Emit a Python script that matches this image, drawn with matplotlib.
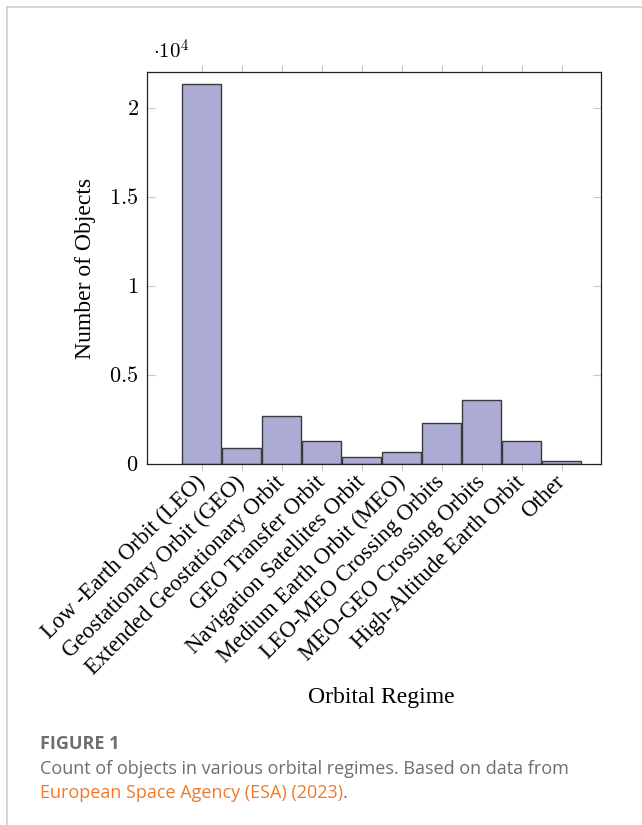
import matplotlib.pyplot as plt
from matplotlib.lines import Line2D

regimes = ['Low -Earth Orbit (LEO)', 'Geostationary Orbit (GEO)',
           'Extended Geostationary Orbit', 'GEO Transfer Orbit',
           'Navigation Satellites Orbit', 'Medium Earth Orbit (MEO)',
           'LEO-MEO Crossing Orbits', 'MEO-GEO Crossing Orbits',
           'High-Altitude Earth Orbit', 'Other']
counts = [21300, 900, 2680, 1270, 400, 680, 2300, 3610, 1270, 150]
yticks = [0, 5000, 10000, 15000, 20000]
ytick_labels = ['0', '0.5', '1', '1.5', '2']

plt.rcParams['font.family'] = ['Liberation Serif', 'DejaVu Serif']
plt.rcParams['mathtext.fontset'] = 'cm'

fig = plt.figure(figsize=(6.42, 8.25), dpi=100)
ax = fig.add_axes([0.229, 0.4376, 0.707, 0.4751])

x = list(range(len(regimes)))
ax.bar(x, counts, width=0.97, color='#ababd4', edgecolor='#3a3a3a', linewidth=1.0, zorder=2)

ax.set_xlim(-1.37, 9.98)
ax.set_ylim(0, 22000)
ax.set_xticks(x)
ax.set_xticklabels(regimes, rotation=45, ha='right', va='center',
                   rotation_mode='anchor', fontsize=16.3)
ax.set_yticks(yticks)
ax.set_yticklabels(['$' + t + '$' for t in ytick_labels], fontsize=16)
ax.tick_params(axis='x', which='both', direction='out', length=5, color='#c8c8c8',
               top=True, pad=6)
ax.tick_params(axis='y', which='both', direction='in', length=6, color='#c8c8c8',
               right=True, pad=6)
for s in ax.spines.values():
    s.set_linewidth(0.9)
    s.set_color('#222222')

ax.set_ylabel('Number of Objects', fontsize=17, labelpad=10)
fig.text(0.594, 0.155, 'Orbital Regime', fontsize=17, ha='center', va='center')
fig.text(0.238, 0.937, r'$\cdot 10^4$', fontsize=15, ha='left', va='center')

# frame around the figure panel
fig.add_artist(Line2D([0.011, 1.0], [0.991, 0.991], color='#cfcfcf', lw=1.2))
fig.add_artist(Line2D([0.011, 0.011], [0.0, 0.991], color='#cfcfcf', lw=1.2))

cap = ['Open Sans', 'DejaVu Sans']
fig.text(0.062, 0.098, 'FIGURE 1', fontsize=13, fontweight='bold', color='#6e6e6e',
         family=cap, va='center')
fig.text(0.062, 0.068, 'Count of objects in various orbital regimes. Based on data from',
         fontsize=13, color='#6e6e6e', family=cap, va='center')
t = fig.text(0.062, 0.039, 'European Space Agency (ESA) (2023)', fontsize=13,
             color='#f07a2a', family=cap, va='center')
fig.canvas.draw()
bb = t.get_window_extent()
fig.text(bb.x1 / fig.bbox.width, 0.039, '.', fontsize=13, color='#6e6e6e',
         family=cap, va='center')

fig.savefig('out.png', dpi=100)
